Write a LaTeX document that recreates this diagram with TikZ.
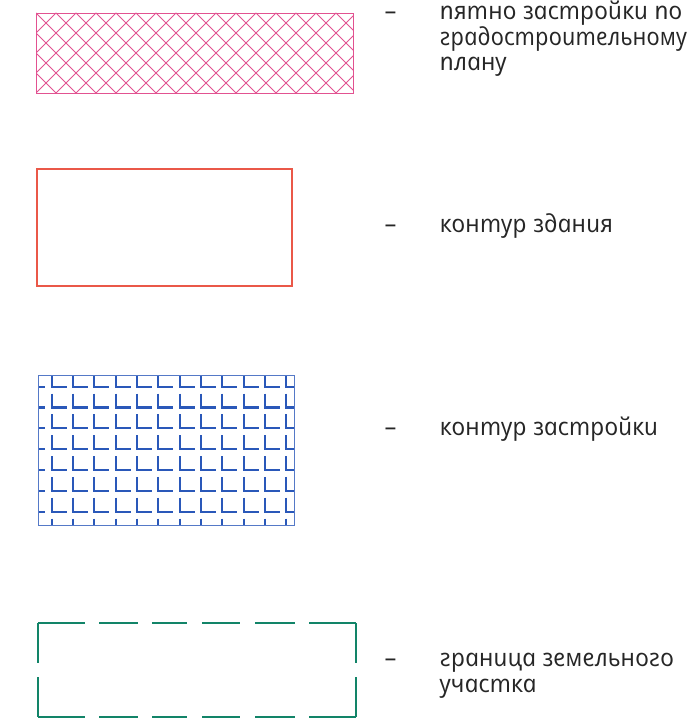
\documentclass[tikz,border=0pt]{standalone}
\usepackage{fontspec}
\newfontfamily\legfont{Open Sans}[ItalicFeatures={FakeSlant=-0.21}]
\definecolor{hatchpink}{RGB}{226,82,145}
\definecolor{bldred}{RGB}{234,88,72}
\definecolor{zastblue}{RGB}{42,88,185}
\definecolor{plotgreen}{RGB}{18,132,104}
\tikzset{
  legtext/.style={anchor=base west,inner sep=0pt,font=\legfont\itshape\fontsize{24.5}{27}\selectfont,text=black!85},
  hatchline/.style={draw=hatchpink,line width=0.8pt},
  lmark/.style={draw=zastblue,line width=2.1pt},
  gdash/.style={draw=plotgreen,line width=2pt}
}
\begin{document}
\begin{tikzpicture}[x=1pt,y=-1pt]
\useasboundingbox (0,0) rectangle (700,719);
% 1: pink crosshatch
\begin{scope}
  \clip (36,13) rectangle (353,93);
  \foreach \i in {-5,...,21} {
    \draw[hatchline] (36+20*\i,13) -- (116+20*\i,93);
    \draw[hatchline] (36+20*\i,13) -- (-44+20*\i,93);
  }
\end{scope}
\draw[hatchpink,line width=0.9pt] (36,13) rectangle (353,93);
\node[legtext] (d1) at (386,20) {–};
\node[legtext] (t1a) at (441,20) {пятно застройки по};
\node[legtext] (t1b) at (441,45.5) {\scalebox{0.96}[1]{градостроительному}};
\node[legtext] (t1c) at (441,71) {плану};
% 2: building contour
\draw[bldred,line width=1.2pt] (37,169) rectangle (292,286);
\node[legtext] (d2) at (386,233) {–};
\node[legtext] (t2) at (441,233) {контур здания};
% 3: L pattern
\begin{scope}
  \clip (38,375) rectangle (294,525);
  \foreach \i in {-1,...,11} {
    \foreach \j in {0,...,7} {
      \draw[lmark] (51.7+21.33*\i,372.7+20.83*\j) -- (51.7+21.33*\i,386.7+20.83*\j) -- (66.7+21.33*\i,386.7+20.83*\j);
    }
  }
\end{scope}
\draw[zastblue!80,line width=0.6pt] (38,375) rectangle (294,525);
\node[legtext] (d3) at (386,435) {–};
\node[legtext] (t3) at (441,435) {контур застройки};
% 4: green dashed plot boundary
\foreach \a/\b in {38/85,99/138,152/187,202/240,255/295,309/356} {
  \draw[gdash] (\a,623) -- (\b,623);
  \draw[gdash] (\a,717) -- (\b,717);
}
\draw[gdash] (38,623) -- (38,663);
\draw[gdash] (38,677) -- (38,717);
\draw[gdash] (356,623) -- (356,663);
\draw[gdash] (356,677) -- (356,717);
\node[legtext] (d4) at (386,666) {–};
\node[legtext] (t4a) at (441,666) {граница земельного};
\node[legtext] (t4b) at (441,692) {участка};
\end{tikzpicture}
\end{document}
